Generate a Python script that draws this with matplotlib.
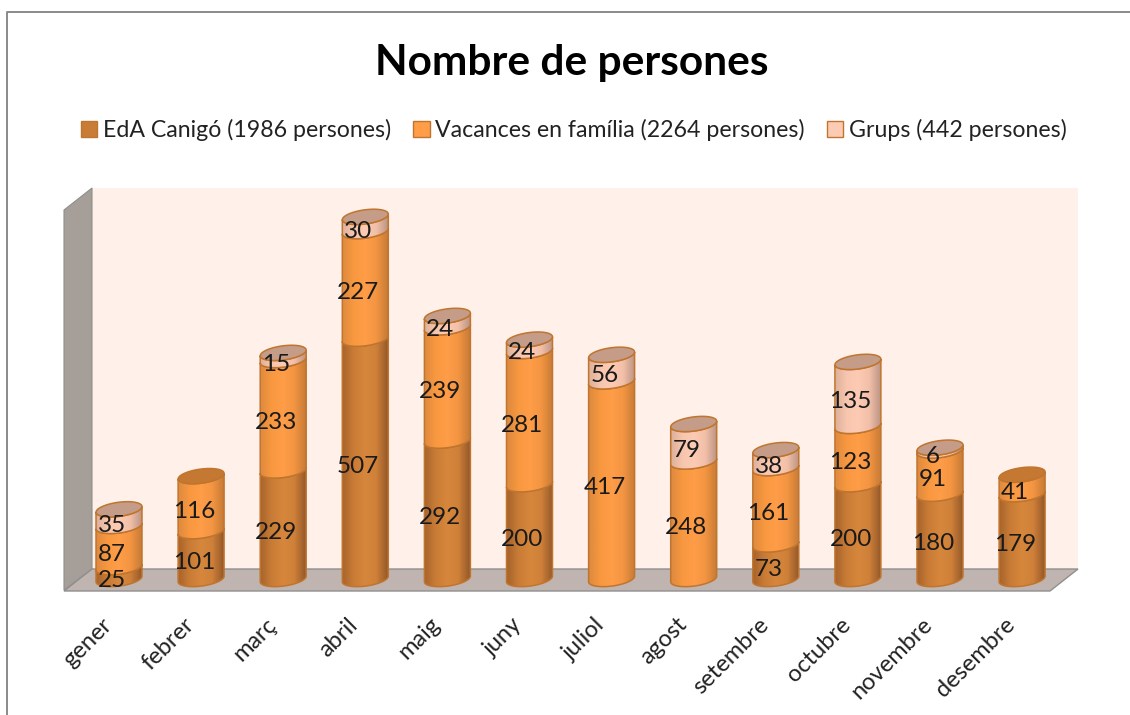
import matplotlib
matplotlib.use('Agg')
import matplotlib.pyplot as plt
import numpy as np
from matplotlib.colors import LinearSegmentedColormap
from matplotlib.patches import Patch, PathPatch, Polygon
from matplotlib.path import Path
from matplotlib.transforms import ScaledTranslation

plt.rcParams['font.family'] = ['Lato', 'DejaVu Sans']

mesos = ['gener', 'febrer', 'març', 'abril', 'maig', 'juny', 'juliol',
         'agost', 'setembre', 'octubre', 'novembre', 'desembre']
eda = [25, 101, 229, 507, 292, 200, 0, 0, 73, 200, 180, 179]
vacances = [87, 116, 233, 227, 239, 281, 417, 248, 161, 123, 91, 41]
grups = [35, 0, 15, 30, 24, 24, 56, 79, 38, 135, 6, 0]
noms = ['EdA Canigó (1986 persones)', 'Vacances en família (2264 persones)',
        'Grups (442 persones)']

W, H = 1130, 715
series = [eda, vacances, grups]
# colour of the cylinder shading, left to right
shades = [['#A8642C', '#C97C36', '#D6873C', '#CF8139', '#96592A'],
          ['#DE8A3F', '#F8983F', '#FF9D48', '#F39542', '#C87C36'],
          ['#DDB09B', '#F8C6AE', '#FDCBB3', '#F2C0A9', '#BD9583']]
legend_cols = ['#C97C36', '#FF9D48', '#FDCBB3']
caps = ['#C07A38', '#C47832', '#C49C88']
edge = '#C0752F'
half_w = 0.28      # cylinder half width, x units
half_h = 15.0      # ellipse half height, y units
slant = 6.0        # ellipses tilt a little

fig = plt.figure(figsize=(W / 100, H / 100), dpi=100)

# pixel axes for frame and 3d walls
bg = fig.add_axes([0, 0, 1, 1])
bg.set_xlim(0, W)
bg.set_ylim(H, 0)
bg.axis('off')
bg.plot([7, 7, W], [H, 12, 12], color='#8a8a8a', lw=1.4)
bg.add_patch(Polygon([(92, 188), (1078, 188), (1078, 569), (92, 569)], fc='#FFF0E9', ec='none'))
bg.add_patch(Polygon([(64, 210), (92, 188), (92, 569), (64, 590)], fc='#A69E99', ec='#8f8f8f', lw=0.8))
bg.add_patch(Polygon([(64, 591), (92, 569), (1078, 569), (1050, 591)], fc='#BFB4B0', ec='#8f8f8f', lw=1))

# data axes, placed so that value 0 sits on the floor
left, right, top, bottom = 64, 1078, 188, 600
ax = fig.add_axes([left / W, 1 - bottom / H, (right - left) / W, (bottom - top) / H])
ax.patch.set_alpha(0)
xlim = ((left - 119) / 82.1, (right - 119) / 82.1)
ylim = ((579 - bottom) / 0.474, (579 - top) / 0.474)
for s in ax.spines.values():
    s.set_visible(False)
ax.set_yticks([])


def arc(cx, y, t0, t1):
    t = np.linspace(t0, t1, 40)
    return np.column_stack([cx + half_w * np.cos(t), y + half_h * np.sin(t) + slant * np.cos(t)])


for i in range(len(mesos)):
    base = 0
    last = max(k for k in range(3) if series[k][i] > 0)
    for k in range(3):
        v = series[k][i]
        if v == 0:
            continue
        # front of the segment: lower arc at bottom, lower arc at top going back
        low = arc(i, base, np.pi, 2 * np.pi)
        up = arc(i, base + v, 2 * np.pi, np.pi)
        verts = np.vstack([low, up, low[:1]])
        body = Path(verts)
        cmap = LinearSegmentedColormap.from_list('c', shades[k])
        img = ax.imshow(np.linspace(0, 1, 64).reshape(1, -1), cmap=cmap, aspect='auto',
                        extent=(i - half_w, i + half_w, base - 30, base + v + 30),
                        zorder=3 + k)
        outline = PathPatch(body, fc='none', ec=edge, lw=1.1, zorder=3 + k + 0.5)
        ax.add_patch(outline)
        img.set_clip_path(outline)
        ax.annotate(str(v), (i, base + v / 2), xytext=(-5.2, -5.5), textcoords='offset points',
                    ha='center', va='center', fontsize=17.5, color='#1a1a1a', zorder=12)
        base += v
        if k == last:
            t = arc(i, base, 0, 2 * np.pi)
            ax.add_patch(Polygon(t, closed=True, fc=caps[k], ec=edge, lw=1.1, zorder=8))

ax.set_xlim(xlim)
ax.set_ylim(ylim)
ax.set_xticks(range(len(mesos)))
ax.set_xticklabels(mesos, rotation=45, ha='right', rotation_mode='anchor', fontsize=17, color='#222222')
ax.tick_params(axis='x', length=0, pad=10)
shift = ScaledTranslation(-13 / 72, 0, fig.dpi_scale_trans)
for lab in ax.get_xticklabels():
    lab.set_transform(lab.get_transform() + shift)

fig.text(572 / W, 1 - 63 / H, 'Nombre de persones', ha='center', va='center',
         fontsize=30.5, fontweight='bold', color='black')

handles = [Patch(fc=c, ec=edge) for c in legend_cols]
fig.legend(handles, noms, ncol=3, frameon=False, loc='center', bbox_to_anchor=(574 / W, 1 - 130 / H),
           fontsize=16.7, labelcolor='#222222', handlelength=0.7, handleheight=0.7,
           handletextpad=0.25, columnspacing=0.95, borderpad=0)

fig.savefig('out.png', dpi=100)
